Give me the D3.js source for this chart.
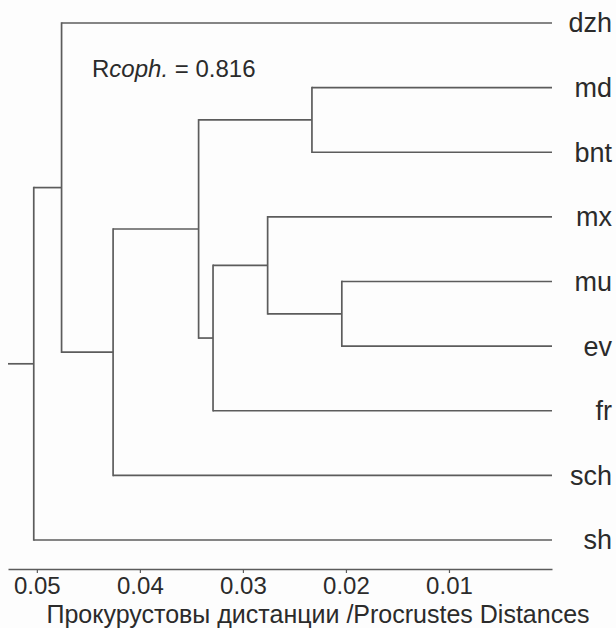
<!DOCTYPE html>
<html>
<head>
<meta charset="utf-8">
<script src="https://cdn.jsdelivr.net/npm/d3@7"></script>
<style>
  html, body { margin: 0; padding: 0; background: #fdfdfd; }
  svg { display: block; font-family: "Liberation Sans", Arial, sans-serif; }
</style>
</head>
<body>
<svg id="chart" width="616" height="628"></svg>
<script>
// ---- data ----
const leaves = ["dzh", "md", "bnt", "mx", "mu", "ev", "fr", "sch", "sh"];
const mergeNames = ["D", "G", "F", "E", "C", "B", "A", "root"];
const mergeChildren = [
  ["md", "bnt"],
  ["mu", "ev"],
  ["mx", "G"],
  ["F", "fr"],
  ["D", "E"],
  ["C", "sch"],
  ["dzh", "B"],
  ["A", "sh"]
];
const mergeHeights = [0.0233, 0.0204, 0.0276, 0.0329, 0.0343, 0.0426, 0.0476, 0.0503];
const tickValues = [0.05, 0.04, 0.03, 0.02, 0.01];
const axisTitle = "Прокурустовы дистанции /Procrustes Distances";
const copheneticR = "0.816";

// ---- build tree ----
const nodes = {};
leaves.forEach(n => nodes[n] = { name: n, height: 0, children: null });
mergeNames.forEach((n, i) => {
  nodes[n] = { name: n, height: mergeHeights[i], children: mergeChildren[i].map(c => nodes[c]) };
});
const root = d3.hierarchy(nodes["root"], d => d.children);

// ---- scales ----
const x = d3.scaleLinear().domain([0.0528, 0]).range([8, 552]);
const yLeaf = d3.scalePoint().domain(leaves).range([23, 540]);

root.eachAfter(n => {
  if (!n.children) n.yPos = yLeaf(n.data.name);
  else n.yPos = d3.mean(n.children, c => c.yPos);
  n.xPos = x(n.data.height);
});

const svg = d3.select("#chart");
const stroke = "#5c5c5c";
const textFill = "#2b2b2b";

const g = svg.append("g");

// elbows
root.each(n => {
  if (n.children) {
    g.append("line")
      .attr("x1", n.xPos).attr("x2", n.xPos)
      .attr("y1", d3.min(n.children, c => c.yPos))
      .attr("y2", d3.max(n.children, c => c.yPos))
      .attr("stroke", stroke).attr("stroke-width", 1.7).attr("stroke-linecap", "square");
    n.children.forEach(c => {
      g.append("line")
        .attr("x1", n.xPos).attr("x2", c.xPos)
        .attr("y1", c.yPos).attr("y2", c.yPos)
        .attr("stroke", stroke).attr("stroke-width", 1.7);
    });
  }
});
// root stub
g.append("line")
  .attr("x1", x(x.domain()[0])).attr("x2", root.xPos)
  .attr("y1", root.yPos).attr("y2", root.yPos)
  .attr("stroke", stroke).attr("stroke-width", 1.7);

// leaf labels
g.selectAll("text.leaf").data(root.leaves()).join("text")
  .attr("class", "leaf")
  .attr("x", 612).attr("y", d => d.yPos)
  .attr("dy", "0.35em")
  .attr("text-anchor", "end")
  .attr("font-size", 27)
  .attr("fill", textFill)
  .text(d => d.data.name);

// axis
const axis = d3.axisBottom(x).tickValues(tickValues).tickSizeInner(4).tickSizeOuter(0)
  .tickPadding(4).tickFormat(d3.format(".2f"));
const ax = svg.append("g").attr("transform", "translate(0,569)").call(axis);
ax.select(".domain").attr("stroke", stroke).attr("stroke-width", 1.7);
ax.selectAll(".tick line").attr("stroke", stroke).attr("stroke-width", 1.2);
ax.selectAll(".tick text").attr("font-size", 24).attr("fill", textFill)
  .attr("font-family", "Liberation Sans, Arial, sans-serif");

// axis title
svg.append("text")
  .attr("x", 318).attr("y", 622.5)
  .attr("text-anchor", "middle")
  .attr("font-size", 25)
  .attr("fill", textFill)
  .text(axisTitle);

// cophenetic correlation label
const t = svg.append("text").attr("x", 92).attr("y", 77).attr("font-size", 24).attr("fill", textFill);
t.append("tspan").text("R");
t.append("tspan").attr("font-style", "italic").text("coph.");
t.append("tspan").text(" = " + copheneticR);
</script>
</body>
</html>
